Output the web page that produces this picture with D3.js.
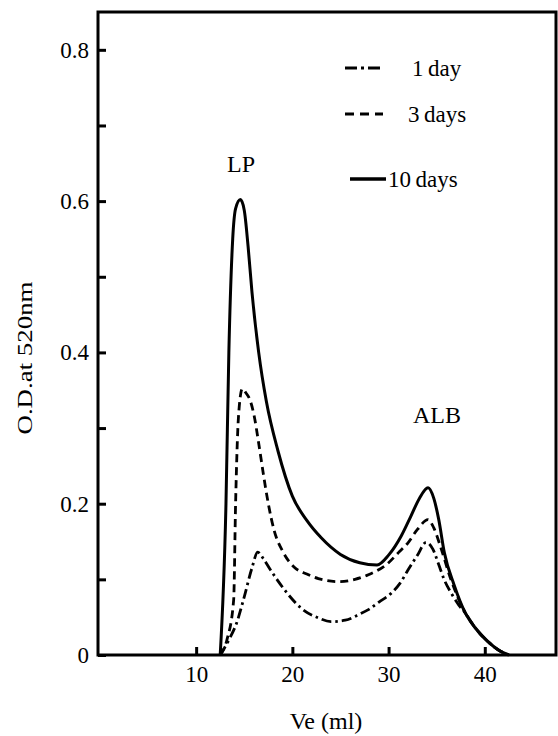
<!DOCTYPE html>
<html lang="en">

<head>
    <meta charset="UTF-8">
    <title>Ve chromatogram</title>
    <script src="https://d3js.org/d3.v7.min.js"></script>
    <style>
        body {
            margin: 0;
            background: #fff;
        }

        svg {
            width: 558px;
            height: 736px;
        }

        svg text {
            font-family: "Liberation Serif", "Times New Roman", "DejaVu Serif", serif;
        }
    </style>
</head>

<body>
    <svg></svg>

    <script>
        // data (Ve in ml, O.D. at 520nm)
        const tenDaysVe = [12.5, 13.1, 13.4, 13.8, 14.1, 14.6, 15.0, 15.4, 15.8, 16.5, 17.3, 18.5, 20.0, 21.5, 23.0, 25.0, 27.0, 28.8, 30.0, 31.3, 32.3, 33.2, 34.1, 34.7, 35.2, 35.8, 36.8, 38.0, 39.0, 40.3, 41.5, 42.5];
        const tenDaysOD = [0, 0.2, 0.4, 0.55, 0.59, 0.602, 0.588, 0.54, 0.48, 0.40, 0.335, 0.27, 0.21, 0.178, 0.155, 0.133, 0.122, 0.119, 0.132, 0.157, 0.183, 0.207, 0.221, 0.207, 0.18, 0.135, 0.093, 0.055, 0.036, 0.018, 0.006, 0];

        const threeDaysVe = [12.5, 13.2, 13.9, 14.1, 14.4, 14.8, 15.2, 15.6, 16.0, 16.5, 17.0, 17.5, 18.1, 19.0, 20.2, 21.5, 22.7, 24.8, 26.5, 27.9, 30.0, 31.0, 32.0, 33.0, 34.1, 34.7, 35.4, 36.5, 38.0, 39.0, 40.3, 41.5, 42.5];
        const threeDaysOD = [0, 0.02, 0.073, 0.2, 0.315, 0.352, 0.346, 0.337, 0.318, 0.28, 0.238, 0.2, 0.165, 0.137, 0.116, 0.107, 0.101, 0.097, 0.1, 0.106, 0.122, 0.135, 0.148, 0.166, 0.179, 0.168, 0.143, 0.099, 0.055, 0.036, 0.018, 0.006, 0];

        const oneDayVe = [12.5, 13.4, 14.2, 15.0, 15.8, 16.4, 17.0, 17.7, 18.5, 19.7, 20.9, 22.7, 24.0, 25.5, 27.0, 27.9, 29.0, 30.3, 31.2, 32.0, 33.0, 33.9, 34.6, 35.2, 35.8, 36.5, 37.3, 38.0, 39.0, 40.3, 41.5, 42.5];
        const oneDayOD = [0, 0.02, 0.042, 0.077, 0.115, 0.136, 0.127, 0.113, 0.098, 0.078, 0.062, 0.049, 0.044, 0.046, 0.054, 0.06, 0.07, 0.082, 0.095, 0.112, 0.132, 0.149, 0.14, 0.12, 0.099, 0.082, 0.066, 0.055, 0.036, 0.018, 0.006, 0];

        const seriesNames = ["1day", "3days", "10days"];
        const xTicks = [10, 20, 30, 40];
        const yTicks = [0, 0.1, 0.2, 0.3, 0.4, 0.5, 0.6, 0.7, 0.8];
        const yLabelled = [0, 0.2, 0.4, 0.6, 0.8];

        const plotLeft = 98, plotTop = 12, plotRight = 556, plotBottom = 655;
        const serif = "'Liberation Serif', 'Times New Roman', 'DejaVu Serif', serif";

        const svg = d3.select('svg');

        var xScale = d3.scaleLinear()
            .domain([-0.2, 47.4])
            .range([plotLeft, plotRight]);

        var yScale = d3.scaleLinear()
            .domain([0, 0.85])
            .range([plotBottom, plotTop]);

        const dashes = {
            "1day": "10,4,2.5,4",
            "3days": "8,5",
            "10days": null
        };

        const series = [
            { name: "1day", values: oneDayVe.map((v, i) => ({ ve: v, od: oneDayOD[i] })) },
            { name: "3days", values: threeDaysVe.map((v, i) => ({ ve: v, od: threeDaysOD[i] })) },
            { name: "10days", values: tenDaysVe.map((v, i) => ({ ve: v, od: tenDaysOD[i] })) }
        ];

        const line = d3.line()
            .x(d => xScale(d.ve))
            .y(d => yScale(d.od))
            .curve(d3.curveMonotoneX);

        svg.append("g")
            .selectAll("path")
            .data(series)
            .join("path")
            .attr("d", d => line(d.values))
            .attr("fill", "none")
            .attr("stroke", "#000")
            .attr("stroke-width", d => d.name == "10days" ? 3 : 2.8)
            .attr("stroke-dasharray", d => dashes[d.name])
            .attr("stroke-linejoin", "round");

        // axes, ticks pointing inward
        const xAxis = svg.append("g")
            .attr("transform", `translate(0,${plotBottom})`)
            .call(d3.axisBottom(xScale).tickValues(xTicks).tickSize(-8).tickPadding(10));

        const yAxis = svg.append("g")
            .attr("transform", `translate(${plotLeft},0)`)
            .call(d3.axisLeft(yScale).tickValues(yTicks).tickSize(-8).tickPadding(9)
                .tickFormat(d => yLabelled.some(v => Math.abs(v - d) < 1e-9) ? (d == 0 ? "0" : d3.format(".1f")(d)) : ""));

        [xAxis, yAxis].forEach(a => {
            a.attr("font-family", serif);
            a.select(".domain").remove();
            a.selectAll(".tick line").attr("stroke-width", 3);
            a.selectAll(".tick text")
                .attr("font-family", serif)
                .attr("font-size", 23)
                .attr("fill", "#000");
        });
        xAxis.selectAll(".tick text").attr("dy", "0.75em");

        // frame
        svg.append("rect")
            .attr("x", plotLeft)
            .attr("y", plotTop)
            .attr("width", plotRight - plotLeft)
            .attr("height", plotBottom - plotTop)
            .attr("fill", "none")
            .attr("stroke", "#000")
            .attr("stroke-width", 3);

        // axis titles
        svg.append("text")
            .attr("transform", "translate(32,358) rotate(-90)")
            .attr("text-anchor", "middle")
            .attr("font-family", serif)
            .attr("font-size", 22)
            .attr("textLength", 153)
            .attr("lengthAdjust", "spacingAndGlyphs")
            .text("O.D.at 520nm");

        svg.append("text")
            .attr("x", 326)
            .attr("y", 729)
            .attr("text-anchor", "middle")
            .attr("font-family", serif)
            .attr("font-size", 24)
            .text("Ve (ml)");

        // peak labels
        svg.append("text")
            .attr("x", 241)
            .attr("y", 172)
            .attr("text-anchor", "middle")
            .attr("font-family", serif)
            .attr("font-size", 24)
            .text("LP");

        svg.append("text")
            .attr("x", 437)
            .attr("y", 423)
            .attr("text-anchor", "middle")
            .attr("font-family", serif)
            .attr("font-size", 24)
            .text("ALB");

        // legend
        const legendY = { "1day": 68, "3days": 114, "10days": 179 };
        const legendX = { "1day": [345, 383, 412], "3days": [345, 383, 408], "10days": [350, 386, 388] };
        const legend = svg.append("g");
        seriesNames.forEach(name => {
            const [x1, x2, tx] = legendX[name];
            legend.append("line")
                .attr("x1", x1).attr("x2", x2)
                .attr("y1", legendY[name]).attr("y2", legendY[name])
                .attr("stroke", "#000")
                .attr("stroke-width", name == "10days" ? 3.5 : 3)
                .attr("stroke-dasharray", name == "1day" ? "12,4,3,4,12" : name == "3days" ? "9,6" : null);
            legend.append("text")
                .attr("x", tx)
                .attr("y", legendY[name] + 8)
                .attr("font-family", serif)
                .attr("font-size", 23)
                .text(name.replace(/^(\d+)/, "$1\u2009"));
        });
    </script>
</body>

</html>
